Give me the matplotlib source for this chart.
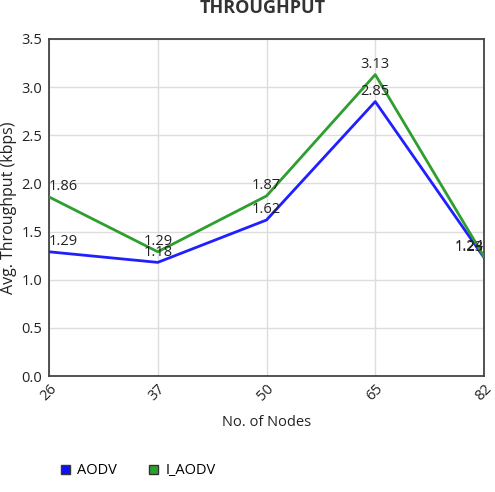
import matplotlib
matplotlib.use('Agg')
import matplotlib.pyplot as plt
from matplotlib.patches import Patch

plt.rcParams['font.family'] = ['Open Sans', 'DejaVu Sans']

nodes = ['26', '37', '50', '65', '82']
aodv = [1.29, 1.18, 1.62, 2.85, 1.23]
i_aodv = [1.86, 1.29, 1.87, 3.13, 1.24]

fig = plt.figure(figsize=(4.95, 4.92), dpi=100)
ax = fig.add_axes([49 / 495, 1 - 376 / 492, 435 / 495, 337 / 492])

x = list(range(len(nodes)))
ax.plot(x, aodv, color='#1f1fff', linewidth=2, zorder=3)
ax.plot(x, i_aodv, color='#2e9e2e', linewidth=2, zorder=3)

# point labels, kept inside the plot area
for series in (aodv, i_aodv):
    for i, v in enumerate(series):
        ha = 'center'
        if i == 0:
            ha = 'left'
        elif i == len(series) - 1:
            ha = 'right'
        ax.annotate('%.2f' % v, (i, v), xytext=(0, 2), textcoords='offset points',
                    ha=ha, va='bottom', fontsize=10.5, color='#222222', zorder=4)

ax.set_xlim(0, len(nodes) - 1)
ax.set_ylim(0, 3.5)
ax.set_xticks(x)
ax.set_xticklabels(nodes, rotation=45, ha='right', rotation_mode='anchor',
                   fontsize=10.5, color='#222222')
ax.set_yticks([0, 0.5, 1.0, 1.5, 2.0, 2.5, 3.0, 3.5])
ax.set_yticklabels(['%.1f' % t for t in ax.get_yticks()], fontsize=10.5, color='#222222')
ax.tick_params(axis='y', length=0, pad=5)
ax.tick_params(axis='x', length=0, pad=4)
ax.grid(True, color='#dddddd', linewidth=1)
ax.set_axisbelow(True)
for s in ax.spines.values():
    s.set_color('#444444')
    s.set_linewidth(1.3)

ax.set_xlabel('No. of Nodes', fontsize=10.5, color='#222222', labelpad=8)
ax.set_ylabel('Avg. Throughput (kbps)', fontsize=11.5, color='#222222', va='center')
ax.yaxis.set_label_coords(-40 / 435, 0.5)
fig.text(263 / 495, 1 - 8 / 492, 'THROUGHPUT', ha='center', va='center',
         fontsize=13, fontweight='bold', color='#333333')

handles = [Patch(facecolor='#1010ff', edgecolor='#333333', label='AODV'),
           Patch(facecolor='#2e9e2e', edgecolor='#333333', label='I_AODV')]
fig.legend(handles=handles, loc='center left', bbox_to_anchor=(48 / 495, 1 - 471 / 492),
           ncol=2, frameon=False, fontsize=10.5, handlelength=0.6, handleheight=0.6,
           columnspacing=2.2, handletextpad=0.5)

fig.savefig('out.png', dpi=100)
